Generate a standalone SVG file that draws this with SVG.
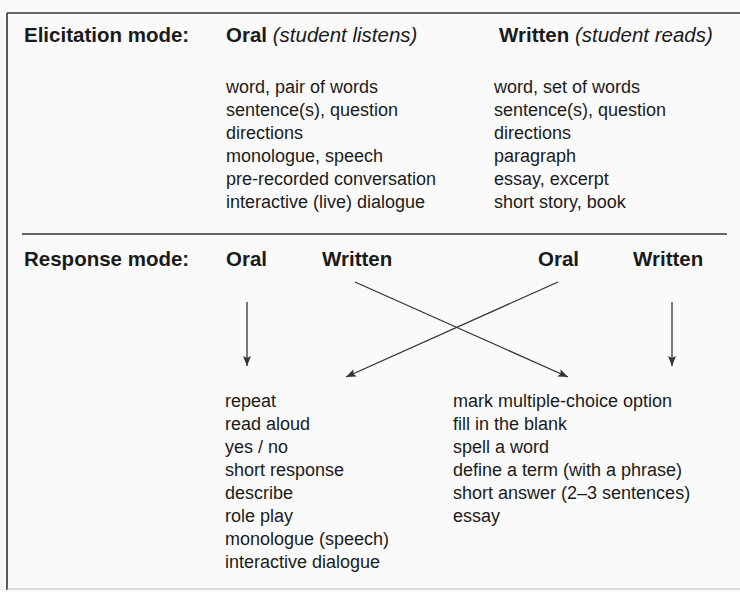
<svg xmlns="http://www.w3.org/2000/svg" width="740" height="592" viewBox="0 0 740 592">
<style>
text{font-family:"Liberation Sans",Arial,Helvetica,sans-serif;font-size:18px;fill:#1a1a1a}
.b{font-weight:bold;font-size:20.5px}
.i{font-style:italic;font-weight:normal}
.frame{stroke:#333;stroke-width:1.6;fill:none}
.conn{stroke:#333;stroke-width:1.3;fill:none;marker-end:url(#ah)}
</style>
<defs>
<marker id="ah" viewBox="0 0 10 10" refX="10" refY="5" markerWidth="10" markerHeight="10" markerUnits="userSpaceOnUse" orient="auto">
<path d="M0,1 L10,5 L0,9 L2,5 Z" fill="#333"/>
</marker>
</defs>
<rect width="740" height="592" fill="#fafafa"/>
<g id="frame">
<line class="frame" x1="7" y1="13" x2="740" y2="13"/>
<line class="frame" x1="7" y1="13" x2="7" y2="590"/>
<line x1="7" y1="589" x2="740" y2="589" stroke="#bbb" stroke-width="1.2"/>
<line x1="22" y1="234" x2="727" y2="234" stroke="#333" stroke-width="1.6"/>
</g>
<g id="elicitation-label"><text class="b" x="24" y="42">Elicitation mode:</text></g>
<g id="elicit-oral">
<text class="b" x="226" y="42">Oral <tspan class="i">(student listens)</tspan></text>
<text x="226" y="93">word, pair of words</text>
<text x="226" y="116">sentence(s), question</text>
<text x="226" y="139">directions</text>
<text x="226" y="162">monologue, speech</text>
<text x="226" y="185">pre-recorded conversation</text>
<text x="226" y="208">interactive (live) dialogue</text>
</g>
<g id="elicit-written">
<text class="b" x="499" y="42">Written <tspan class="i">(student reads)</tspan></text>
<text x="494" y="93">word, set of words</text>
<text x="494" y="116">sentence(s), question</text>
<text x="494" y="139">directions</text>
<text x="494" y="162">paragraph</text>
<text x="494" y="185">essay, excerpt</text>
<text x="494" y="208">short story, book</text>
</g>
<g id="response-label"><text class="b" x="24" y="266">Response mode:</text></g>
<g id="resp-oral-1"><text class="b" x="226" y="266">Oral</text></g>
<g id="resp-written-1"><text class="b" x="322" y="266">Written</text></g>
<g id="resp-oral-2"><text class="b" x="538" y="266">Oral</text></g>
<g id="resp-written-2"><text class="b" x="633" y="266">Written</text></g>
<g id="connectors">
<line class="conn" x1="247" y1="302" x2="247" y2="366"/>
<line class="conn" x1="672" y1="302" x2="672" y2="366"/>
<line class="conn" x1="355" y1="282" x2="568" y2="377"/>
<line class="conn" x1="558" y1="282" x2="346" y2="377"/>
</g>
<g id="oral-responses">
<text x="225" y="407">repeat</text>
<text x="225" y="430">read aloud</text>
<text x="225" y="453">yes / no</text>
<text x="225" y="476">short response</text>
<text x="225" y="499">describe</text>
<text x="225" y="522">role play</text>
<text x="225" y="545">monologue (speech)</text>
<text x="225" y="568">interactive dialogue</text>
</g>
<g id="written-responses">
<text x="453" y="407">mark multiple-choice option</text>
<text x="453" y="430">fill in the blank</text>
<text x="453" y="453">spell a word</text>
<text x="453" y="476">define a term (with a phrase)</text>
<text x="453" y="499">short answer (2–3 sentences)</text>
<text x="453" y="522">essay</text>
</g>
</svg>
